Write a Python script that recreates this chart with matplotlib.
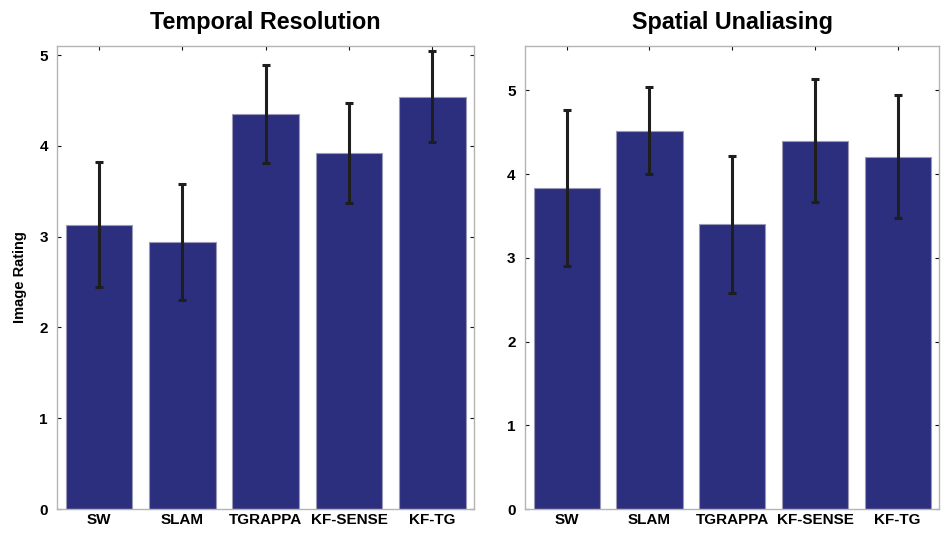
import numpy as np
import matplotlib
matplotlib.use('Agg')
import matplotlib.pyplot as plt
from matplotlib import rcParams

rcParams['font.family'] = ['Liberation Sans', 'DejaVu Sans']
rcParams['font.weight'] = 'bold'

methods = ['SW', 'SLAM', 'TGRAPPA', 'KF-SENSE', 'KF-TG']

temporal_mean = [3.13, 2.94, 4.35, 3.92, 4.54]
temporal_err = [0.69, 0.64, 0.54, 0.55, 0.50]

spatial_mean = [3.83, 4.52, 3.40, 4.40, 4.21]
spatial_err = [0.93, 0.52, 0.82, 0.73, 0.73]

BAR = '#2b2f7e'

fig = plt.figure(figsize=(9.41, 5.33), dpi=100)
ax1 = fig.add_axes([0.0611, 0.045, 0.4426, 0.8687])
ax2 = fig.add_axes([0.5582, 0.045, 0.4398, 0.8687])


def draw(ax, means, errs, title, ytop):
    x = np.arange(1, len(methods) + 1)
    ax.bar(x, means, width=0.8, color=BAR, edgecolor='#9a9ab8', linewidth=0.8, zorder=2)
    ax.errorbar(x, means, yerr=errs, fmt='none', ecolor='#1e1e1e', elinewidth=2.2,
                capsize=3, capthick=2.2, zorder=3)
    ax.set_xlim(0.5, len(methods) + 0.5)
    ax.set_ylim(0, ytop)
    ax.set_xticks(x)
    ax.set_xticklabels(methods, fontsize=11, fontweight='bold')
    ax.set_yticks(range(0, 6))
    ax.set_yticklabels([str(v) for v in range(0, 6)], fontsize=11, fontweight='bold')
    ax.tick_params(direction='in', length=3, width=0.8, color='#111111',
                   top=True, right=True, pad=7)
    ax.tick_params(axis='x', pad=3)
    for s in ax.spines.values():
        s.set_color('#b4b4b4')
        s.set_linewidth(1.0)
    ax.set_title(title, fontsize=16.8, fontweight='bold', pad=12)


draw(ax1, temporal_mean, temporal_err, 'Temporal Resolution', 5.1)
draw(ax2, spatial_mean, spatial_err, 'Spatial Unaliasing', 5.53)
ax1.set_ylabel('Image Rating', fontsize=10.5, fontweight='bold', labelpad=9)

fig.savefig('out.png', dpi=100)
